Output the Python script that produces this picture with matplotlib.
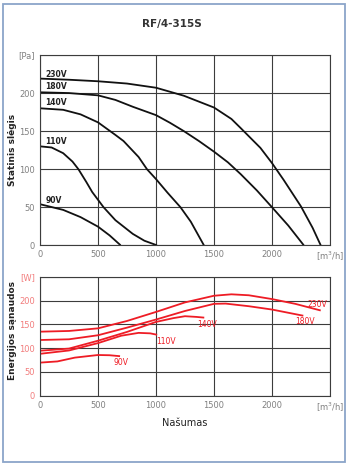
import matplotlib
matplotlib.use("Agg")
import matplotlib.pyplot as plt
from matplotlib.patches import Rectangle

plt.rcParams['font.family'] = ['Liberation Sans Narrow', 'DejaVu Sans']

# statinis slegis (Pa) - juodos kreives
p230_x = [0, 250, 500, 750, 1000, 1240, 1500, 1650, 1730, 1900, 2000, 2100, 2250, 2350, 2420]
p230_y = [219, 217.5, 215.5, 212.5, 207, 196.5, 181, 166, 154, 128, 108, 86, 51, 23, 0]
p180_x = [0, 250, 500, 650, 800, 1000, 1120, 1240, 1370, 1500, 1620, 1730, 1870, 2000, 2140, 2274]
p180_y = [201, 200, 197, 191, 182, 171, 161, 150, 137, 123, 109, 93.5, 72, 50, 26, 0]
p140_x = [0, 200, 350, 500, 650, 720, 850, 922, 1000, 1100, 1211, 1300, 1413]
p140_y = [180, 178, 172, 161.5, 145, 137, 116, 100, 87, 69, 50, 31, 0]
p110_x = [0, 100, 200, 280, 331, 400, 450, 548, 650, 800, 900, 1008]
p110_y = [130, 128.5, 121, 110, 100, 83, 70, 50, 33, 15, 6, 0]
p90_x = [0, 200, 350, 500, 600, 695]
p90_y = [54, 46.5, 37, 24.5, 13, 0]

# energijos sanaudos (W) - raudonos kreives
w230_x = [0, 250, 500, 750, 1000, 1250, 1500, 1650, 1800, 2000, 2200, 2420]
w230_y = [134.5, 136, 141.5, 157, 176, 196, 210, 213, 211, 203, 193, 179]
w180_x = [0, 250, 500, 750, 1000, 1250, 1500, 1600, 1800, 2000, 2270]
w180_y = [117, 118.5, 127, 143, 160, 178, 193, 193.5, 188, 181, 168]
w140_x = [0, 250, 500, 750, 1000, 1150, 1250, 1350, 1416]
w140_y = [94.5, 99, 115.5, 134, 155, 163, 167, 165.5, 164]
w110_x = [0, 250, 500, 700, 850, 950, 1010]
w110_y = [88, 95, 110.5, 126, 132, 131, 128]
w90_x = [0, 150, 300, 500, 600, 690]
w90_y = [69.5, 72, 80, 85.5, 85, 83]

x_ticks = [0, 500, 1000, 1500, 2000, 2500]
x_labels = ['0', '500', '1000', '1500', '2000', '[m$^3$/h]']
p_ticks = [0, 50, 100, 150, 200, 250]
p_labels = ['0', '50', '100', '150', '200', '[Pa]']
w_ticks = [0, 50, 100, 150, 200, 250]
w_labels = ['0', '50', '100', '150', '200', '[W]']

grey = '#808080'
pink = '#f27d7d'
red = '#ee1c25'
gridc = '#3c3c3c'

fig = plt.figure(figsize=(3.5, 4.66), dpi=100)
fig.patches.append(Rectangle((3 / 350, 4 / 466), 342 / 350, 458 / 466, transform=fig.transFigure,
                             fill=False, edgecolor='#8ba5c9', lw=1.3))
fig.text(0.49, 1 - 24 / 466, 'RF/4-315S', ha='center', va='center', fontsize=7.5,
         fontweight='bold', color='#333333', family=['DejaVu Sans'])

ax1 = fig.add_axes([40 / 350, 1 - 245.3 / 466, 290 / 350, 190.3 / 466])
ax2 = fig.add_axes([40 / 350, 1 - 395.7 / 466, 290 / 350, 119 / 466])

for ax, yt, yl, yc in [(ax1, p_ticks, p_labels, grey), (ax2, w_ticks, w_labels, pink)]:
    ax.set_xlim(0, 2500)
    ax.set_ylim(0, 250)
    ax.set_xticks(x_ticks)
    ax.set_xticklabels(x_labels)
    ax.set_yticks(yt)
    ax.set_yticklabels(yl)
    ax.tick_params(length=0, labelsize=6, pad=3.5)
    ax.tick_params(axis='x', colors=grey)
    ax.tick_params(axis='y', colors=yc)
    ax.grid(True, color=gridc, lw=0.8)
    ax.set_axisbelow(True)
    for s in ax.spines.values():
        s.set_color(gridc)
        s.set_linewidth(0.8)

# slegio kreives
lw = 1.3
for xs, ys in [(p230_x, p230_y), (p180_x, p180_y), (p140_x, p140_y), (p110_x, p110_y), (p90_x, p90_y)]:
    ax1.plot(xs, ys, color='#111111', lw=lw, solid_capstyle='butt')
for lab, yy in [('230V', 225), ('180V', 208), ('140V', 188), ('110V', 136), ('90V', 58.5)]:
    ax1.text(45, yy, lab, fontsize=5.5, fontweight='bold', color='#222222', va='center', ha='left')

# galios kreives
for xs, ys in [(w230_x, w230_y), (w180_x, w180_y), (w140_x, w140_y), (w110_x, w110_y), (w90_x, w90_y)]:
    ax2.plot(xs, ys, color=red, lw=lw, solid_capstyle='butt')
for lab, xx, yy in [('230V', 2390, 192.6), ('180V', 2288, 155.4), ('140V', 1440, 150.6),
                    ('110V', 1084, 113), ('90V', 695, 69.3)]:
    ax2.text(xx, yy, lab, fontsize=5.5, color=red, va='center', ha='center')

ax1.set_ylabel('Statinis slėgis', fontsize=6.5, fontweight='bold', color='#222222')
ax2.set_ylabel('Energijos sąnaudos', fontsize=6.5, fontweight='bold', color='#222222')
ax1.yaxis.set_label_coords(-0.08, 0.5)
ax2.yaxis.set_label_coords(-0.08, 0.55)
ax2.set_xlabel('Našumas', fontsize=7, color='#222222', labelpad=3)

fig.savefig('out.png', dpi=100)
